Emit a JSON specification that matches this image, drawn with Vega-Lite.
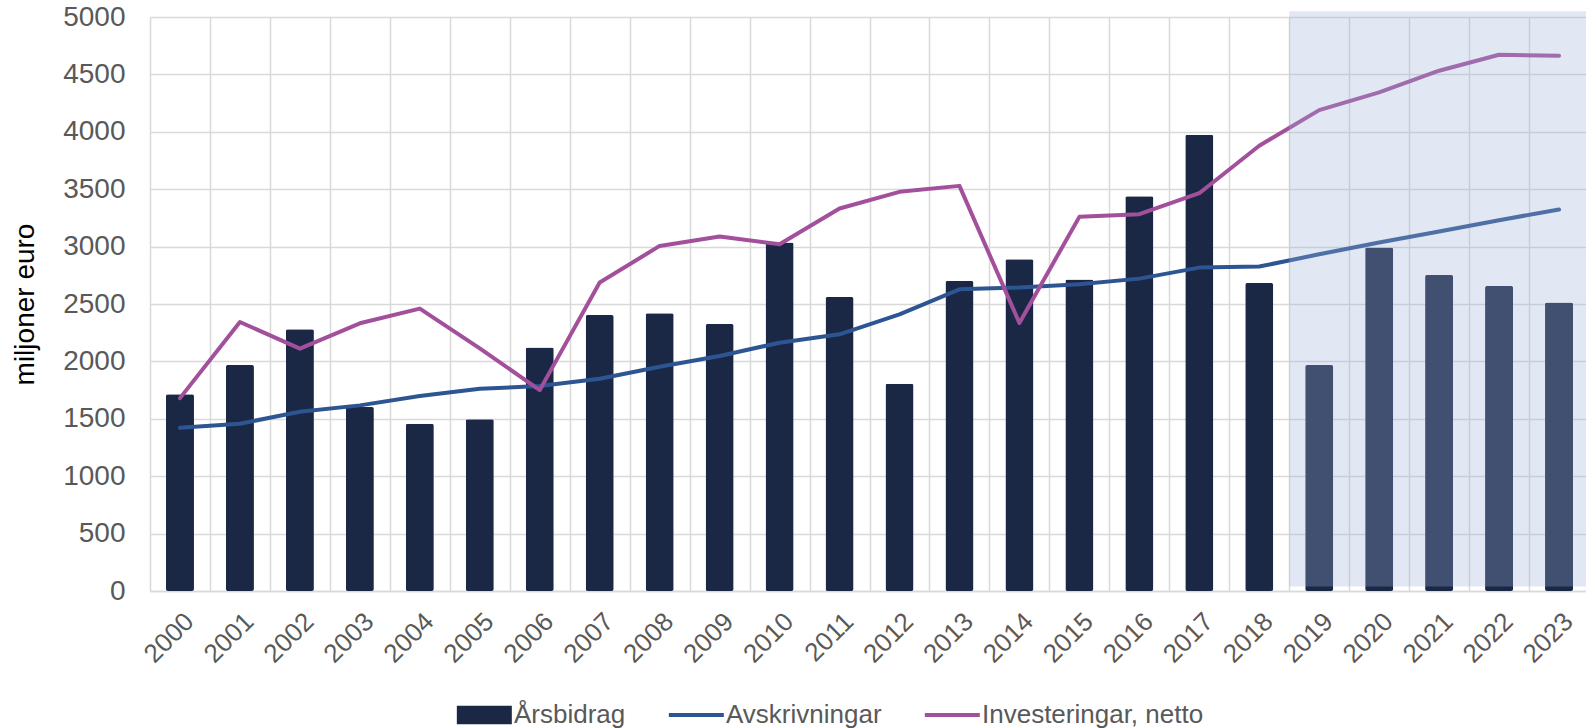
{
  "$schema": "https://vega.github.io/schema/vega-lite/v6.json",
  "width": 1439,
  "height": 574,
  "autosize": "none",
  "padding": {"left": 150, "top": 17, "right": 0, "bottom": 137},
  "background": "white",
  "config": {
    "font": "Liberation Sans",
    "view": {"stroke": null}
  },
  "datasets": {
    "main": [
      {"year": "2000", "series": "Årsbidrag", "value": 1713},
      {"year": "2001", "series": "Årsbidrag", "value": 1968},
      {"year": "2002", "series": "Årsbidrag", "value": 2279},
      {"year": "2003", "series": "Årsbidrag", "value": 1602},
      {"year": "2004", "series": "Årsbidrag", "value": 1457},
      {"year": "2005", "series": "Årsbidrag", "value": 1495},
      {"year": "2006", "series": "Årsbidrag", "value": 2120},
      {"year": "2007", "series": "Årsbidrag", "value": 2404},
      {"year": "2008", "series": "Årsbidrag", "value": 2419},
      {"year": "2009", "series": "Årsbidrag", "value": 2326},
      {"year": "2010", "series": "Årsbidrag", "value": 3035},
      {"year": "2011", "series": "Årsbidrag", "value": 2561},
      {"year": "2012", "series": "Årsbidrag", "value": 1806},
      {"year": "2013", "series": "Årsbidrag", "value": 2701},
      {"year": "2014", "series": "Årsbidrag", "value": 2890},
      {"year": "2015", "series": "Årsbidrag", "value": 2713},
      {"year": "2016", "series": "Årsbidrag", "value": 3439},
      {"year": "2017", "series": "Årsbidrag", "value": 3974},
      {"year": "2018", "series": "Årsbidrag", "value": 2683},
      {"year": "2019", "series": "Årsbidrag", "value": 1968},
      {"year": "2020", "series": "Årsbidrag", "value": 2992},
      {"year": "2021", "series": "Årsbidrag", "value": 2753},
      {"year": "2022", "series": "Årsbidrag", "value": 2657},
      {"year": "2023", "series": "Årsbidrag", "value": 2512},
      {"year": "2000", "series": "Avskrivningar", "value": 1422},
      {"year": "2001", "series": "Avskrivningar", "value": 1457},
      {"year": "2002", "series": "Avskrivningar", "value": 1562},
      {"year": "2003", "series": "Avskrivningar", "value": 1617},
      {"year": "2004", "series": "Avskrivningar", "value": 1698},
      {"year": "2005", "series": "Avskrivningar", "value": 1762},
      {"year": "2006", "series": "Avskrivningar", "value": 1785},
      {"year": "2007", "series": "Avskrivningar", "value": 1849},
      {"year": "2008", "series": "Avskrivningar", "value": 1954},
      {"year": "2009", "series": "Avskrivningar", "value": 2047},
      {"year": "2010", "series": "Avskrivningar", "value": 2163},
      {"year": "2011", "series": "Avskrivningar", "value": 2236},
      {"year": "2012", "series": "Avskrivningar", "value": 2410},
      {"year": "2013", "series": "Avskrivningar", "value": 2628},
      {"year": "2014", "series": "Avskrivningar", "value": 2643},
      {"year": "2015", "series": "Avskrivningar", "value": 2672},
      {"year": "2016", "series": "Avskrivningar", "value": 2721},
      {"year": "2017", "series": "Avskrivningar", "value": 2817},
      {"year": "2018", "series": "Avskrivningar", "value": 2826},
      {"year": "2019", "series": "Avskrivningar", "value": 2933},
      {"year": "2020", "series": "Avskrivningar", "value": 3035},
      {"year": "2021", "series": "Avskrivningar", "value": 3131},
      {"year": "2022", "series": "Avskrivningar", "value": 3230},
      {"year": "2023", "series": "Avskrivningar", "value": 3323},
      {"year": "2000", "series": "Investeringar, netto", "value": 1680},
      {"year": "2001", "series": "Investeringar, netto", "value": 2343},
      {"year": "2002", "series": "Investeringar, netto", "value": 2111},
      {"year": "2003", "series": "Investeringar, netto", "value": 2332},
      {"year": "2004", "series": "Investeringar, netto", "value": 2460},
      {"year": "2005", "series": "Investeringar, netto", "value": 2114},
      {"year": "2006", "series": "Investeringar, netto", "value": 1750},
      {"year": "2007", "series": "Investeringar, netto", "value": 2687},
      {"year": "2008", "series": "Investeringar, netto", "value": 3006},
      {"year": "2009", "series": "Investeringar, netto", "value": 3088},
      {"year": "2010", "series": "Investeringar, netto", "value": 3021},
      {"year": "2011", "series": "Investeringar, netto", "value": 3332},
      {"year": "2012", "series": "Investeringar, netto", "value": 3477},
      {"year": "2013", "series": "Investeringar, netto", "value": 3529},
      {"year": "2014", "series": "Investeringar, netto", "value": 2335},
      {"year": "2015", "series": "Investeringar, netto", "value": 3259},
      {"year": "2016", "series": "Investeringar, netto", "value": 3282},
      {"year": "2017", "series": "Investeringar, netto", "value": 3465},
      {"year": "2018", "series": "Investeringar, netto", "value": 3878},
      {"year": "2019", "series": "Investeringar, netto", "value": 4189},
      {"year": "2020", "series": "Investeringar, netto", "value": 4343},
      {"year": "2021", "series": "Investeringar, netto", "value": 4532},
      {"year": "2022", "series": "Investeringar, netto", "value": 4671},
      {"year": "2023", "series": "Investeringar, netto", "value": 4662}
    ],
    "shade": [
      {"from": "2019", "to": "2023", "top": 5050, "bottom": 40}
    ]
  },
  "layer": [
    {
      "data": {"name": "main"},
      "transform": [{"filter": "datum.series === 'Årsbidrag'"}],
      "mark": {"type": "bar", "width": {"band": 0.467}, "cornerRadius": 2},
      "encoding": {
        "x": {
          "field": "year",
          "type": "ordinal",
          "scale": {"paddingInner": 0, "paddingOuter": 0},
          "axis": {
            "title": null,
            "labelAngle": -45,
            "labelFontSize": 26,
            "labelColor": "#595959",
            "labelPadding": 17,
            "ticks": false,
            "tickBand": "extent",
            "domainColor": "#d9d9d9",
            "domainWidth": 1.5,
            "grid": true,
            "gridColor": "#d9d9d9",
            "gridWidth": 1.5
          }
        },
        "y": {
          "field": "value",
          "type": "quantitative",
          "scale": {"domain": [0, 5000], "nice": false},
          "axis": {
            "title": "miljoner euro",
            "titleFontSize": 28,
            "titleFontWeight": "normal",
            "titleColor": "#000000",
            "titlePadding": 23,
            "format": "d",
            "values": [0, 500, 1000, 1500, 2000, 2500, 3000, 3500, 4000, 4500, 5000],
            "labelFontSize": 28,
            "labelColor": "#595959",
            "labelPadding": 25,
            "ticks": false,
            "domain": false,
            "grid": true,
            "gridColor": "#d9d9d9",
            "gridWidth": 1.5
          }
        },
        "color": {
          "field": "series",
          "type": "nominal",
          "scale": {
            "domain": ["Årsbidrag", "Avskrivningar", "Investeringar, netto"],
            "range": ["#1b2845", "#2e5593", "#a3509c"]
          },
          "legend": {
            "orient": "none",
            "legendX": 303,
            "legendY": 685,
            "direction": "horizontal",
            "title": null,
            "symbolSize": 336,
            "symbolType": "square",
            "labelFontSize": 26,
            "labelColor": "#595959",
            "labelLimit": 500,
            "labelOffset": 35,
            "columnPadding": 39,
            "encode": {
              "symbols": {
                "update": {
                  "shape": {"signal": "datum.value === 'Årsbidrag' ? 'M-1,-1H5V1H-1Z' : 'M-1,-0.22H5V0.22H-1Z'"},
                  "fill": {"scale": "color", "field": "value"},
                  "strokeWidth": {"value": 0},
                  "opacity": {"value": 1}
                }
              }
            }
          }
        }
      }
    },
    {
      "data": {"name": "main"},
      "transform": [{"filter": "datum.series !== 'Årsbidrag'"}],
      "mark": {"type": "line", "strokeWidth": 4, "strokeCap": "round", "strokeJoin": "round"},
      "encoding": {
        "x": {"field": "year", "type": "ordinal"},
        "y": {"field": "value", "type": "quantitative"},
        "color": {"field": "series", "type": "nominal"}
      }
    },
    {
      "data": {"name": "shade"},
      "mark": {"type": "rect", "color": "#9bafd7", "opacity": 0.3},
      "encoding": {
        "x": {"field": "from", "type": "ordinal", "bandPosition": 0},
        "x2": {"field": "to", "bandPosition": 1},
        "y": {"field": "top", "type": "quantitative"},
        "y2": {"field": "bottom"}
      }
    }
  ]
}
